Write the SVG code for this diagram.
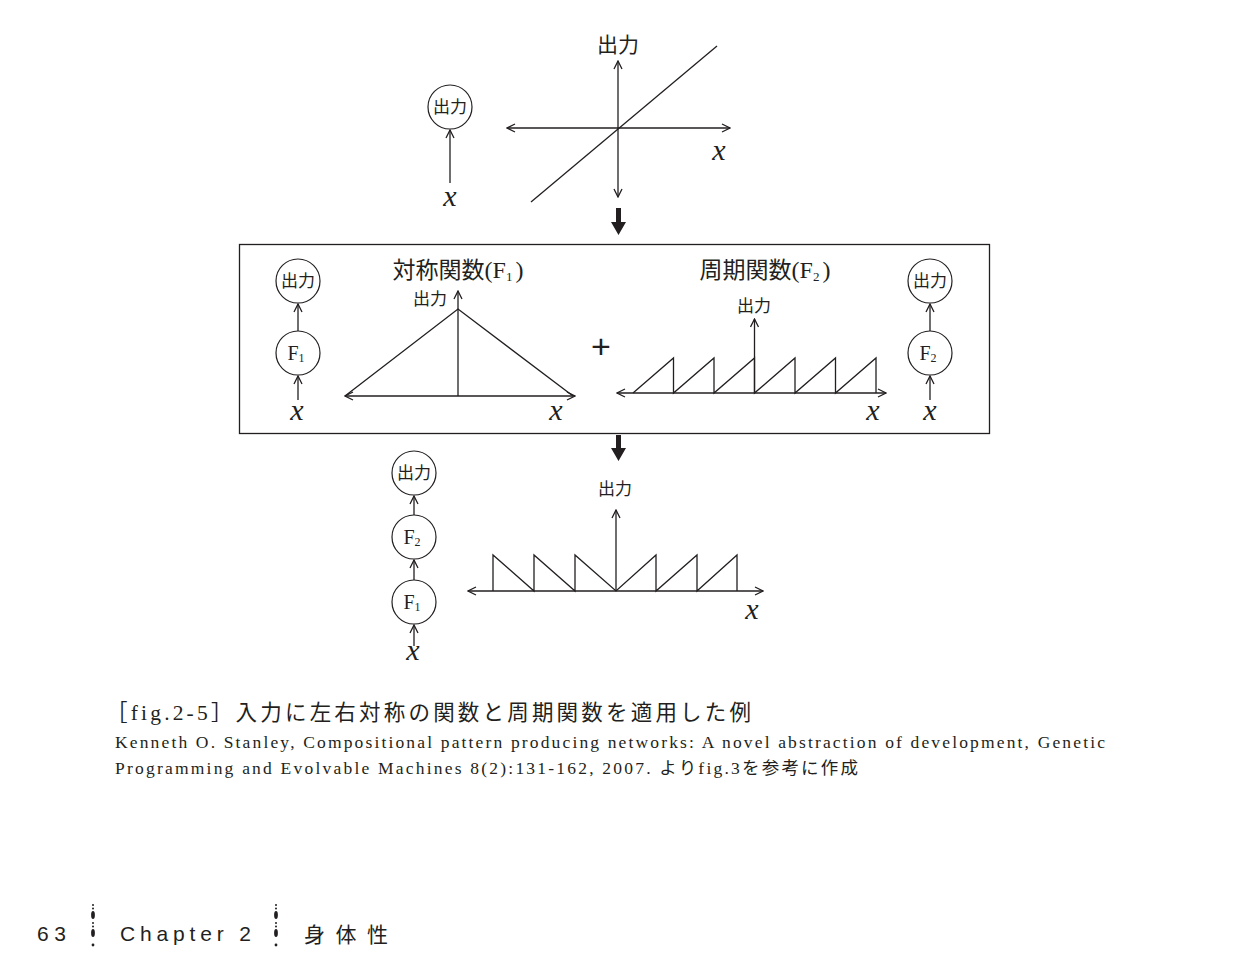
<svg xmlns="http://www.w3.org/2000/svg" width="1260" height="978" viewBox="0 0 1260 978">
<style>
.ln{stroke:#231f20;stroke-width:1.3;fill:none}
.ar{stroke:#231f20;stroke-width:1.3;fill:none;marker-end:url(#ah)}
.ar2{stroke:#231f20;stroke-width:1.3;fill:none;marker-start:url(#ah);marker-end:url(#ah)}
.nd{stroke:#231f20;stroke-width:1.2;fill:#fff}
.jp{font-family:"Noto Sans CJK JP",sans-serif;fill:#231f20}
.nt{font-family:"Noto Sans CJK JP",sans-serif;fill:#231f20;font-size:17px;text-anchor:middle}
.xv{font-family:"Liberation Serif",serif;font-style:italic;font-size:30px;fill:#231f20;text-anchor:middle}
.fs{font-family:"Liberation Serif",serif;font-size:20px;fill:#231f20;text-anchor:middle}
.cap{font-family:"Liberation Serif","Noto Sans CJK JP",serif;fill:#231f20}
.ft{font-family:"Liberation Sans","Noto Sans CJK JP",sans-serif;fill:#231f20;font-size:21px}
.thick{fill:#231f20}
</style>
<defs>
<marker id="ah" viewBox="0 0 10 10" refX="9" refY="5" markerWidth="10" markerHeight="10" markerUnits="userSpaceOnUse" orient="auto-start-reverse"><path d="M1,1 L9,5 L1,9" fill="none" stroke="#231f20" stroke-width="1.3"/></marker>
</defs>
<rect width="1260" height="978" fill="#fff"/>

<!-- top section -->
<g id="top-out"><circle class="nd" cx="450" cy="107" r="22"/><text class="nt" x="450" y="113">出力</text></g>
<g id="top-x"><text class="xv" x="450" y="206">x</text></g>
<g id="top-chart">
<line class="ar2" x1="507" y1="128" x2="730" y2="128"/>
<line class="ar2" x1="618" y1="61" x2="618" y2="197"/>
<line class="ln" x1="531" y1="202" x2="717" y2="46"/>
<text class="jp" x="618" y="52" font-size="21" text-anchor="middle">出力</text>
<text class="xv" x="719" y="160">x</text>
</g>

<!-- box -->
<rect id="box" x="239.5" y="244.5" width="750" height="189" fill="none" stroke="#231f20" stroke-width="1.3"/>

<g id="f1-out"><circle class="nd" cx="298" cy="281" r="22"/><text class="nt" x="298" y="287">出力</text></g>
<g id="f1-node"><circle class="nd" cx="298" cy="353" r="22"/><text class="fs" x="296" y="360">F<tspan font-size="12" dy="2">1</tspan></text></g>
<g id="f1-x"><text class="xv" x="297" y="420">x</text></g>

<g id="f1-chart">
<text class="jp" x="458" y="278" font-size="23" text-anchor="middle">対称関数<tspan font-family="Liberation Serif" font-size="24">(F</tspan><tspan font-family="Liberation Serif" font-size="13" dy="3">1</tspan><tspan font-family="Liberation Serif" font-size="24" dx="3" dy="-3">)</tspan></text>
<text class="jp" x="430" y="305" font-size="17" text-anchor="middle">出力</text>
<line class="ar2" x1="345" y1="396" x2="575" y2="396"/>
<line class="ar" x1="458" y1="396" x2="458" y2="291"/>
<path class="ln" d="M345,396 L458,309 L573,396"/>
<text class="xv" x="556" y="420">x</text>
</g>

<g id="plus"><text x="601" y="358" font-family="Liberation Sans,sans-serif" font-size="34" fill="#231f20" text-anchor="middle">+</text></g>

<g id="f2-chart">
<text class="jp" x="765" y="278" font-size="23" text-anchor="middle">周期関数<tspan font-family="Liberation Serif" font-size="24">(F</tspan><tspan font-family="Liberation Serif" font-size="13" dy="3">2</tspan><tspan font-family="Liberation Serif" font-size="24" dx="3" dy="-3">)</tspan></text>
<text class="jp" x="754" y="312" font-size="17" text-anchor="middle">出力</text>
<line class="ar2" x1="617" y1="393" x2="886" y2="393"/>
<line class="ar" x1="754.5" y1="393" x2="754.5" y2="319"/>
<path class="ln" d="M633,393 L673.5,358 L673.5,393 L714,358 L714,393 L754.5,358 L754.5,393 L795,358 L795,393 L835.5,358 L835.5,393 L876,358 L876,393"/>
<text class="xv" x="873" y="420">x</text>
</g>

<g id="f2-out"><circle class="nd" cx="930" cy="281" r="22"/><text class="nt" x="930" y="287">出力</text></g>
<g id="f2-node"><circle class="nd" cx="930" cy="353" r="22"/><text class="fs" x="928" y="360">F<tspan font-size="12" dy="2">2</tspan></text></g>
<g id="f2-x"><text class="xv" x="930" y="420">x</text></g>

<!-- bottom -->
<g id="c-out"><circle class="nd" cx="414" cy="473" r="22"/><text class="nt" x="414" y="479">出力</text></g>
<g id="c-f2"><circle class="nd" cx="414" cy="537" r="22"/><text class="fs" x="412" y="544">F<tspan font-size="12" dy="2">2</tspan></text></g>
<g id="c-f1"><circle class="nd" cx="414" cy="602" r="22"/><text class="fs" x="412" y="609">F<tspan font-size="12" dy="2">1</tspan></text></g>
<g id="c-x"><text class="xv" x="413" y="660">x</text></g>

<g id="c-chart">
<text class="jp" x="615" y="495" font-size="17" text-anchor="middle">出力</text>
<line class="ar2" x1="468" y1="591" x2="763" y2="591"/>
<line class="ar" x1="616" y1="591" x2="616" y2="510"/>
<path class="ln" d="M493,591 L493,555 L534,591 L534,555 L575,591 L575,555 L616,591 L656,555 L656,591 L697,555 L697,591 L737,555 L737,591"/>
<text class="xv" x="752" y="619">x</text>
</g>

<!-- connectors -->
<g id="connectors">
<line class="ar" x1="450" y1="183" x2="450" y2="130"/>
<line class="ar" x1="298" y1="331" x2="298" y2="304"/>
<line class="ar" x1="298" y1="400" x2="298" y2="376"/>
<line class="ar" x1="930" y1="331" x2="930" y2="304"/>
<line class="ar" x1="930" y1="400" x2="930" y2="376"/>
<line class="ar" x1="414" y1="515" x2="414" y2="496"/>
<line class="ar" x1="414" y1="580" x2="414" y2="560"/>
<line class="ar" x1="414" y1="646" x2="414" y2="625"/>
<path class="thick" d="M616,208 L621,208 L621,222 L626,222 L618.5,235 L611,222 L616,222 Z"/>
<path class="thick" d="M616,435 L621,435 L621,448 L626,448 L618.5,461 L611,448 L616,448 Z"/>
</g>

<!-- caption -->
<g id="caption">
<text class="cap" x="106" y="720" font-size="21.5" textLength="645" lengthAdjust="spacing">［fig.2-5］入力に左右対称の関数と周期関数を適用した例</text>
<text class="cap" x="115" y="748" font-size="17.5" textLength="990" lengthAdjust="spacing">Kenneth O. Stanley, Compositional pattern producing networks: A novel abstraction of development, Genetic</text>
<text class="cap" x="115" y="774" font-size="17.5" textLength="743" lengthAdjust="spacing">Programming and Evolvable Machines 8(2):131-162, 2007. よりfig.3を参考に作成</text>
</g>

<!-- footer -->
<g id="footer">
<text class="ft" x="37" y="941" textLength="29" lengthAdjust="spacing">63</text>
<g fill="#231f20">
<circle cx="93" cy="905" r="1"/><circle cx="93" cy="908.5" r="1"/><ellipse cx="93" cy="915" rx="1.9" ry="4"/>
<circle cx="93" cy="923" r="1"/><circle cx="93" cy="926.5" r="1"/><ellipse cx="93" cy="933" rx="1.9" ry="4"/>
<circle cx="93" cy="945" r="1.4"/>
<circle cx="276" cy="905" r="1"/><circle cx="276" cy="908.5" r="1"/><ellipse cx="276" cy="915" rx="1.9" ry="4"/>
<circle cx="276" cy="923" r="1"/><circle cx="276" cy="926.5" r="1"/><ellipse cx="276" cy="933" rx="1.9" ry="4"/>
<circle cx="276" cy="945" r="1.4"/>
</g>
<text class="ft" x="120" y="941" textLength="131" lengthAdjust="spacing">Chapter 2</text>
<text class="ft" x="304" y="942" textLength="84" lengthAdjust="spacing">身体性</text>
</g>
</svg>
